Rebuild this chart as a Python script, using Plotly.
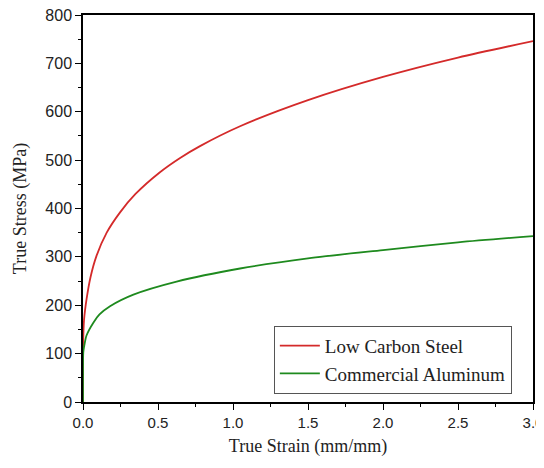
import plotly.graph_objects as go

steel_strain = [0.0, 0.0005, 0.002, 0.007, 0.024, 0.05, 0.09, 0.158, 0.247, 0.35, 0.513, 0.65, 0.78, 1.047, 1.5, 2.0, 2.5, 3.0]
steel_stress = [0, 100, 135, 170, 213, 258, 302, 350, 392, 430, 475, 505, 529, 570, 624, 672, 712, 746]

al_strain = [0.0, 0.0005, 0.002, 0.007, 0.024, 0.069, 0.11, 0.18, 0.336, 0.624, 1.047, 1.5, 2.0, 2.5, 3.0]
al_stress = [0, 88, 103, 114, 138, 164, 181, 198, 222, 249, 276, 297, 314, 330, 343]

fig = go.Figure()
fig.add_trace(go.Scatter(x=steel_strain, y=steel_stress, mode="lines",
                         name="Low Carbon Steel", line=dict(color="#d42a2a", width=1.8, shape="spline", smoothing=0.8)))
fig.add_trace(go.Scatter(x=al_strain, y=al_stress, mode="lines",
                         name="Commercial Aluminum", line=dict(color="#1e8a1e", width=1.8, shape="spline", smoothing=0.8)))

axis_common = dict(showgrid=False, zeroline=False, showline=True, linecolor="black", linewidth=1.5,
                   mirror=True, ticks="outside", tickcolor="black", tickwidth=1.2, ticklen=6,
                   automargin=False, ticklabeloverflow="allow")

fig.update_xaxes(range=[0, 3.0], dtick=0.5, tickformat=".1f",
                 tickfont=dict(family="Liberation Sans, Arial", size=15, color="#222"),
                 minor=dict(dtick=0.25, ticks="outside", ticklen=3, tickcolor="black", tickwidth=1.2),
                 title=dict(text="True Strain (mm/mm)", font=dict(family="Liberation Serif, Times New Roman", size=18, color="#222"), standoff=10),
                 **axis_common)
fig.update_yaxes(range=[0, 800], dtick=100,
                 tickfont=dict(family="Liberation Sans, Arial", size=16, color="#222"),
                 minor=dict(dtick=50, ticks="outside", ticklen=3, tickcolor="black", tickwidth=1.2),
                 title=dict(text="True Stress (MPa)", font=dict(family="Liberation Serif, Times New Roman", size=18, color="#222"), standoff=14),
                 **axis_common)

fig.update_layout(
    width=536, height=452,
    margin=dict(l=75, r=11, t=7, b=58),
    plot_bgcolor="white", paper_bgcolor="white",
    legend=dict(x=0.953, y=0.021, xanchor="right", yanchor="bottom",
                bordercolor="#555", borderwidth=1, bgcolor="white",
                font=dict(family="Liberation Serif, Times New Roman", size=19, color="#222"),
                tracegroupgap=0, itemwidth=40),
    showlegend=True,
)

fig.write_html("out.html")
